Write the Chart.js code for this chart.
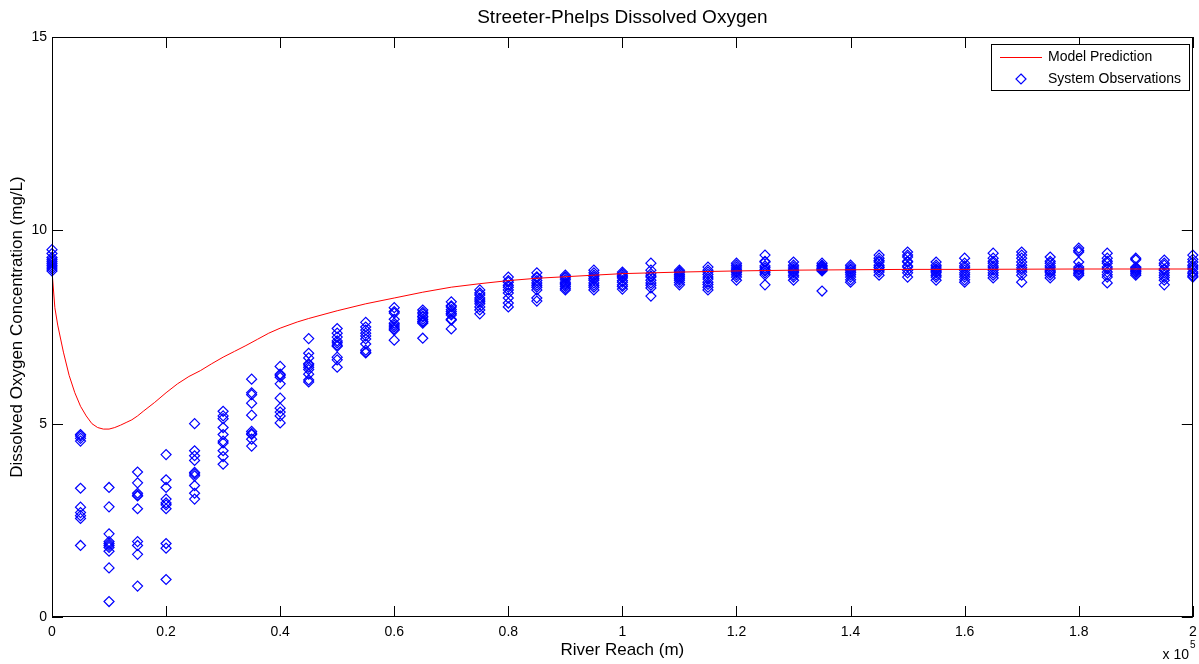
<!DOCTYPE html>
<html>
<head>
<meta charset="utf-8">
<script src="https://cdn.jsdelivr.net/npm/chart.js@4.4.1/dist/chart.umd.min.js"></script>
<style>
  html, body { margin: 0; padding: 0; background: #fff; }
  #wrap { width: 1199px; height: 664px; }
</style>
</head>
<body>
<div id="wrap"><canvas id="doChart" width="1199" height="664"></canvas></div>
<script>
// Streeter-Phelps DO sag: model curve + field observations

// model prediction (x in m, DO in mg/L)
const modelX = [0, 500, 1000, 2000, 3000, 4000, 5000, 6000, 7000, 8000, 9000, 10000,
  11000, 12000, 13000, 14000, 15000, 16000, 18000, 20000, 22000, 24000, 26000, 28000,
  30000, 32000, 34000, 36000, 38000, 40000, 43000, 45000, 50000, 55000, 60000, 65000,
  70000, 75000, 80000, 85000, 90000, 95000, 100000, 110000, 120000, 130000, 140000,
  150000, 160000, 180000, 200000];
const modelDO = [8.95, 8.0, 7.55, 6.85, 6.25, 5.8, 5.45, 5.2, 5.0, 4.9, 4.86, 4.86,
  4.9, 4.96, 5.03, 5.1, 5.2, 5.32, 5.55, 5.8, 6.03, 6.22, 6.37, 6.55,
  6.72, 6.87, 7.02, 7.18, 7.34, 7.47, 7.63, 7.72, 7.92, 8.1, 8.25, 8.4,
  8.53, 8.62, 8.7, 8.76, 8.8, 8.84, 8.88, 8.92, 8.95, 8.97, 8.98,
  8.99, 8.99, 9.0, 9.0];

// sampling stations every 5 km
const stationX = [0, 5000, 10000, 15000, 20000, 25000, 30000, 35000, 40000, 45000,
  50000, 55000, 60000, 65000, 70000, 75000, 80000, 85000, 90000, 95000, 100000,
  105000, 110000, 115000, 120000, 125000, 130000, 135000, 140000, 145000, 150000,
  155000, 160000, 165000, 170000, 175000, 180000, 185000, 190000, 195000, 200000];

// observed DO at each station (mg/L)
const observedDO = [
  [9.5, 9.4, 9.3, 9.2, 9.15, 9.1, 9.05, 9.0, 8.95, 9.25],
  [4.72, 4.68, 4.62, 4.55, 3.33, 2.84, 2.7, 2.62, 2.55, 1.85],
  [3.35, 2.85, 2.15, 1.95, 1.9, 1.85, 1.8, 1.7, 1.27, 0.4],
  [3.75, 3.47, 3.2, 3.13, 2.8, 1.95, 1.85, 1.62, 0.8, 3.15],
  [4.2, 3.55, 3.35, 3.05, 2.95, 2.9, 2.8, 1.9, 1.78, 0.97],
  [5.0, 4.3, 4.17, 4.05, 3.74, 3.7, 3.65, 3.4, 3.2, 3.05],
  [5.32, 5.2, 5.13, 4.9, 4.72, 4.55, 4.5, 4.3, 4.15, 3.95],
  [6.15, 5.8, 5.75, 5.53, 5.22, 4.8, 4.72, 4.6, 4.42, 4.75],
  [6.48, 6.28, 6.2, 6.03, 5.66, 5.4, 5.3, 5.2, 5.02, 6.25],
  [7.2, 6.82, 6.7, 6.52, 6.46, 6.4, 6.28, 6.13, 6.08, 6.55],
  [7.46, 7.34, 7.24, 7.14, 7.09, 7.03, 6.72, 6.65, 6.46, 7.0],
  [7.62, 7.5, 7.42, 7.34, 7.27, 7.19, 7.06, 6.9, 6.83, 6.85],
  [8.0, 7.9, 7.86, 7.7, 7.6, 7.55, 7.5, 7.45, 7.42, 7.16],
  [7.94, 7.88, 7.84, 7.78, 7.76, 7.7, 7.65, 7.63, 7.6, 7.21],
  [8.15, 8.05, 8.02, 7.95, 7.9, 7.85, 7.81, 7.7, 7.68, 7.45],
  [8.46, 8.38, 8.33, 8.25, 8.2, 8.15, 8.1, 8.02, 7.94, 7.84],
  [8.79, 8.7, 8.66, 8.58, 8.53, 8.46, 8.38, 8.25, 8.12, 8.02],
  [8.9, 8.8, 8.77, 8.7, 8.64, 8.58, 8.53, 8.46, 8.25, 8.17],
  [8.84, 8.8, 8.77, 8.72, 8.66, 8.62, 8.59, 8.55, 8.5, 8.46],
  [8.97, 8.9, 8.84, 8.8, 8.75, 8.71, 8.64, 8.58, 8.53, 8.46],
  [8.92, 8.88, 8.84, 8.8, 8.77, 8.7, 8.66, 8.59, 8.55, 8.48],
  [9.15, 8.97, 8.88, 8.82, 8.79, 8.71, 8.64, 8.58, 8.51, 8.3],
  [8.97, 8.93, 8.9, 8.86, 8.82, 8.79, 8.75, 8.71, 8.65, 8.59],
  [9.05, 8.97, 8.92, 8.86, 8.79, 8.74, 8.66, 8.6, 8.53, 8.46],
  [9.15, 9.1, 9.05, 9.0, 8.97, 8.93, 8.9, 8.85, 8.79, 8.71],
  [9.36, 9.2, 9.18, 9.08, 9.03, 8.98, 8.95, 8.9, 8.85, 8.59],
  [9.18, 9.1, 9.05, 9.0, 8.97, 8.93, 8.9, 8.84, 8.79, 8.71],
  [9.15, 9.1, 9.05, 9.02, 9.0, 8.97, 8.95, 9.08, 8.99, 8.43],
  [9.1, 9.05, 9.0, 8.97, 8.92, 8.9, 8.85, 8.79, 8.72, 8.66],
  [9.36, 9.28, 9.22, 9.18, 9.1, 9.05, 9.03, 8.97, 8.92, 8.84],
  [9.44, 9.36, 9.31, 9.2, 9.18, 9.08, 9.05, 8.97, 8.9, 8.79],
  [9.18, 9.1, 9.05, 9.0, 8.97, 8.93, 8.9, 8.84, 8.79, 8.71],
  [9.28, 9.15, 9.08, 9.03, 8.97, 8.9, 8.85, 8.79, 8.72, 8.66],
  [9.41, 9.28, 9.2, 9.15, 9.08, 9.03, 8.97, 8.9, 8.84, 8.77],
  [9.44, 9.36, 9.28, 9.18, 9.1, 9.03, 8.98, 8.92, 8.84, 8.66],
  [9.31, 9.2, 9.15, 9.08, 9.03, 8.97, 8.93, 8.9, 8.84, 8.77],
  [9.54, 9.48, 9.44, 9.18, 9.05, 9.0, 8.97, 8.92, 8.88, 8.84],
  [9.41, 9.28, 9.2, 9.15, 9.05, 9.0, 8.92, 8.85, 8.79, 8.64],
  [9.28, 9.24, 9.05, 9.03, 9.0, 8.97, 8.94, 8.92, 8.88, 8.84],
  [9.23, 9.15, 9.1, 9.0, 8.97, 8.9, 8.84, 8.78, 8.71, 8.59],
  [9.36, 9.25, 9.18, 9.1, 9.05, 9.0, 8.92, 8.88, 8.82, 8.79]
];

const xTicks = [0, 20000, 40000, 60000, 80000, 100000, 120000, 140000, 160000, 180000, 200000];
const yTicks = [0, 5, 10, 15];
const chartTitle = 'Streeter-Phelps Dissolved Oxygen';

const FONT = 'Arial, "Liberation Sans", Helvetica, sans-serif';
Chart.defaults.font.family = FONT;
Chart.defaults.color = '#000';

const modelPoints = modelX.map((x, i) => ({ x: x, y: modelDO[i] }));
const obsPoints = [];
stationX.forEach((x, i) => {
  observedDO[i].forEach(v => obsPoints.push({ x: x, y: v }));
});

// MATLAB-ish box, inward ticks on all sides, title over the axes, legend, exponent
const matlabAxes = {
  id: 'matlabAxes',
  afterDatasetsDraw(chart) {
    const ctx = chart.ctx;
    const a = chart.chartArea;
    const xs = chart.scales.x, ys = chart.scales.y;
    const tick = 11;
    ctx.save();
    ctx.strokeStyle = '#000';
    ctx.lineWidth = 1;
    ctx.strokeRect(Math.round(a.left) + 0.5, Math.round(a.top) + 0.5,
      Math.round(a.right - a.left) - 1, Math.round(a.bottom - a.top) - 1);
    ctx.beginPath();
    xs.ticks.forEach(t => {
      const px = Math.round(xs.getPixelForValue(t.value)) + 0.5;
      ctx.moveTo(px, a.bottom); ctx.lineTo(px, a.bottom - tick);
      ctx.moveTo(px, a.top); ctx.lineTo(px, a.top + tick);
    });
    ys.ticks.forEach(t => {
      const py = Math.round(ys.getPixelForValue(t.value)) + 0.5;
      ctx.moveTo(a.left, py); ctx.lineTo(a.left + tick, py);
      ctx.moveTo(a.right, py); ctx.lineTo(a.right - tick, py);
    });
    ctx.stroke();

    // title, centred over the plot box
    ctx.fillStyle = '#000';
    ctx.font = '19px ' + FONT;
    ctx.textAlign = 'center';
    ctx.textBaseline = 'middle';
    ctx.fillText(chartTitle, (a.left + a.right) / 2, 18);

    // legend
    const lx = 991, ly = 44, lw = 198, lh = 46;
    ctx.fillStyle = '#fff';
    ctx.fillRect(lx, ly, lw, lh);
    ctx.strokeRect(lx + 0.5, ly + 0.5, lw, lh);
    const ds = chart.data.datasets;
    ctx.strokeStyle = ds[0].borderColor;
    ctx.beginPath();
    ctx.moveTo(1000, 57.5); ctx.lineTo(1042, 57.5);
    ctx.stroke();
    ctx.strokeStyle = ds[1].borderColor;
    ctx.lineWidth = 1.2;
    ctx.beginPath();
    ctx.moveTo(1021, 74); ctx.lineTo(1026, 79); ctx.lineTo(1021, 84); ctx.lineTo(1016, 79);
    ctx.closePath();
    ctx.stroke();
    ctx.fillStyle = '#000';
    ctx.font = '14px ' + FONT;
    ctx.textAlign = 'left';
    ctx.fillText(ds[0].label, 1048, 57);
    ctx.fillText(ds[1].label, 1048, 79);

    // x 10^5
    ctx.font = '14px ' + FONT;
    ctx.textAlign = 'right';
    ctx.fillText('x 10', 1189, 655);
    ctx.font = '10px ' + FONT;
    ctx.textAlign = 'left';
    ctx.fillText('5', 1190, 645);
    ctx.restore();
  }
};

new Chart(document.getElementById('doChart'), {
  type: 'scatter',
  data: {
    datasets: [
      {
        label: 'Model Prediction',
        data: modelPoints,
        showLine: true,
        borderColor: '#ff0000',
        borderWidth: 1,
        pointRadius: 0,
        tension: 0,
        fill: false
      },
      {
        label: 'System Observations',
        data: obsPoints,
        showLine: false,
        pointStyle: 'rectRot',
        pointRadius: 5,
        pointBorderWidth: 1.2,
        borderColor: '#0000ff',
        pointBorderColor: '#0000ff',
        pointBackgroundColor: 'rgba(0,0,0,0)',
        clip: false
      }
    ]
  },
  options: {
    responsive: false,
    animation: false,
    layout: { padding: { left: 0, right: 3, top: 37, bottom: 0 } },
    plugins: {
      legend: { display: false },
      tooltip: { enabled: false },
      title: { display: false }
    },
    scales: {
      x: {
        type: 'linear',
        min: 0,
        max: 200000,
        afterBuildTicks: s => { s.ticks = xTicks.map(v => ({ value: v })); },
        afterFit: s => { s.height = 47; s.paddingLeft = 0; s.paddingRight = 0; },
        grid: { display: false, drawTicks: false },
        border: { display: false },
        ticks: {
          autoSkip: false,
          maxRotation: 0,
          padding: 7,
          font: { size: 14 },
          callback: v => String(parseFloat((v / 1e5).toFixed(1)))
        },
        title: {
          display: true,
          text: 'River Reach (m)',
          font: { size: 17 },
          padding: { top: 0, bottom: 3.8 }
        }
      },
      y: {
        type: 'linear',
        min: 0,
        max: 15,
        afterBuildTicks: s => { s.ticks = yTicks.map(v => ({ value: v })); },
        afterFit: s => { s.width = 52; },
        grid: { display: false, drawTicks: false },
        border: { display: false },
        ticks: {
          padding: 5,
          font: { size: 14 },
          callback: v => String(v)
        },
        title: {
          display: true,
          text: 'Dissolved Oxygen Concentration (mg/L)',
          font: { size: 17 },
          padding: { top: 7.5, bottom: 0 }
        }
      }
    }
  },
  plugins: [matlabAxes]
});
</script>
</body>
</html>
